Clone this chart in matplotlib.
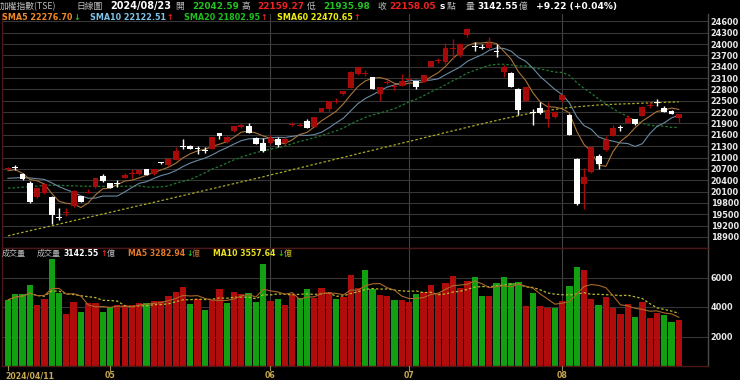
import matplotlib
matplotlib.use('Agg')
import matplotlib.pyplot as plt
import numpy as np
import pandas as pd

# ---------------- data ----------------
month_labels = ['2024/04/11', '05', '06', '07', '08']
month_idx = [0, 14, 36, 55, 76]
month_lines = [36, 55, 76]

opens = [20690, 20750, 20555, 20335, 19960, 20060, 19965, 19420, 19545, 19727,
         19970, 20060, 20210, 20505, 20318, 20330, 20470, 20580, 20555, 20690,
         20560, 20865, 20795, 20940, 21295, 21310, 21250, 21200, 21225, 21655,
         21400, 21690, 21800, 21833, 21505, 21390, 21375, 21490, 21375, 21870,
         21830, 21965, 21815, 22212, 22275, 22465, 22680, 22846, 23200, 23220,
         23127, 22690, 22985, 22880, 22890, 23050, 23010, 22995, 23390, 23560,
         23525, 23880, 23700, 24230, 23930, 23920, 23895, 23815, 23268, 23240,
         22820, 22495, 22195, 22310, 22030, 22070, 22510, 22130, 20970, 20308,
         20617, 21031, 21190, 21580, 21800, 21903, 22009, 22097, 22370, 22455,
         22300, 22238, 22042.59]
highs = [20760, 20790, 20580, 20380, 20230, 20330, 19990, 19660, 19660, 20140,
         19990, 20180, 20470, 20555, 20330, 20405, 20600, 20687, 20675, 20700,
         20700, 20880, 20975, 21270, 21500, 21320, 21310, 21290, 21540, 21660,
         21560, 21845, 21900, 21900, 21550, 21505, 21590, 21530, 21530, 21945,
         21900, 22010, 22065, 22310, 22500, 22560, 22770, 23290, 23405, 23320,
         23140, 22870, 23040, 22950, 23210, 23210, 23020, 23180, 23545, 23620,
         24035, 24140, 24030, 24420, 24040, 23990, 24180, 23990, 23443, 23250,
         22830, 22865, 22275, 22470, 22470, 22230, 22690, 22140, 20975, 20722,
         21280, 21100, 21580, 21870, 21860, 22120, 22020, 22350, 22480, 22540,
         22360, 22250, 22159.27]
lows = [20670, 20670, 20405, 19790, 19940, 20040, 19250, 19345, 19465, 19700,
        19820, 20050, 20200, 20365, 20185, 20230, 20450, 20450, 20545, 20535,
        20550, 20840, 20785, 20930, 21225, 21220, 21100, 21110, 21220, 21500,
        21390, 21680, 21780, 21639, 21348, 21155, 21370, 21280, 21300, 21820,
        21825, 21770, 21800, 22200, 22230, 22440, 22650, 22840, 23190, 23150,
        22810, 22495, 22930, 22780, 22880, 23000, 22820, 22990, 23380, 23510,
        23480, 23610, 23660, 24180, 23810, 23880, 23880, 23660, 23136, 22860,
        22130, 22490, 21870, 22150, 21805, 22040, 22480, 21600, 19735, 19630,
        20600, 20705, 21180, 21570, 21690, 21900, 21870, 22090, 22300, 22370,
        22190, 22141, 21935.98]
closes = [20735, 20725, 20432, 19833, 20200, 20300, 19480, 19400, 19565, 20115,
          19830, 20085, 20466, 20375, 20190, 20312, 20540, 20595, 20670, 20540,
          20690, 20850, 20970, 21170, 21280, 21225, 21235, 21190, 21530, 21580,
          21550, 21835, 21860, 21645, 21350, 21160, 21505, 21330, 21480, 21880,
          21845, 21775, 22060, 22300, 22494, 22475, 22765, 23250, 23400, 23235,
          22820, 22860, 23000, 22895, 23010, 23070, 22865, 23170, 23540, 23570,
          23895, 23900, 24005, 24405, 23915, 23905, 24025, 23800, 23400, 22865,
          22245, 22860, 22170, 22185, 22245, 22200, 22645, 21605, 19780, 20484,
          21277, 20837, 21454, 21775, 21790, 22036, 21877, 22344, 22390, 22445,
          22212, 22148.83, 22158.05]
volumes = [4475, 4882, 4882, 5492, 4136, 4520, 7232, 4927, 3526, 4339,
           3684, 4249, 4249, 3639, 4023, 4136, 4136, 4136, 4249, 4294,
           4407, 4407, 4746, 4995, 5379, 4204, 4520, 3797, 4475, 5198,
           4249, 4995, 4882, 4927, 4317, 6916, 4430, 4520, 4136, 4882,
           4633, 5198, 4588, 5266, 5040, 4543, 4701, 6170, 5266, 6509,
           5198, 4814, 4746, 4475, 4475, 4339, 4882, 5040, 5492, 4927,
           5650, 6102, 5266, 5763, 6012, 4746, 4769, 5605, 6057, 5650,
           5673, 4068, 4927, 4091, 3955, 3910, 4407, 5447, 6690, 6509,
           4543, 4136, 4656, 3910, 3503, 4181, 3300, 4317, 3277, 3616,
           3458, 3006, 3142.55]
# volume bar colour: R = up vs previous close, G = down
vol_dir = ("GGGGRRGGRRGRRGGRRRRGRRRRRGRGRRGRRGGGRGRRGGRRRGRRRG"
           "GRRGRRGRRRRRRRGGRGGGGRGRRGRGGRRGRRRRGRRRGGR")
# moving-average values read where the visible closes are not enough
sma5_head = [20650, 20680, 20580, 20420]
sma10_head = [20450, 20460, 20470, 20460, 20440, 20420, 20330, 20230, 20150]
sma20_head = [20190, 20200, 20215, 20230, 20245, 20260, 20270, 20265, 20255, 20250,
              20245, 20240, 20240, 20235, 20235, 20240, 20240, 20245, 20250]
sma60 = [18930, 18975, 19020, 19065, 19110, 19150, 19195, 19240, 19285, 19330,
         19375, 19420, 19460, 19505, 19550, 19595, 19640, 19685, 19730, 19770,
         19815, 19860, 19905, 19950, 19995, 20040, 20085, 20130, 20175, 20220,
         20265, 20310, 20355, 20400, 20445, 20490, 20540, 20585, 20630, 20680,
         20725, 20770, 20820, 20865, 20910, 20960, 21005, 21050, 21100, 21145,
         21190, 21240, 21285, 21330, 21380, 21425, 21470, 21520, 21565, 21610,
         21660, 21705, 21750, 21800, 21845, 21890, 21935, 21980, 22025, 22065,
         22105, 22145, 22180, 22210, 22240, 22270, 22300, 22320, 22340, 22355,
         22372, 22388, 22398, 22406, 22414, 22421, 22428, 22435, 22443, 22450,
         22457, 22464, 22471]
# values printed in the header legends
sma_names = ['SMA5', 'SMA10', 'SMA20', 'SMA60']
sma_last = [22276.70, 22122.51, 21802.95, 22470.65]
vol_ma_names = ['MA5', 'MA10']
vol_ma_last = [3282.94, 3557.64]
change = 9.22
change_pct = 0.04
price_ticks = list(range(18900, 24601, 300))
vol_ticks = [2000, 4000, 6000]

# ---------------- derived ----------------
n = len(closes)
x = np.arange(n)
o = np.array(opens, float); h = np.array(highs, float)
l = np.array(lows, float); c = np.array(closes, float)
cs = pd.Series(c)
sma5 = cs.rolling(5).mean().values
sma5[:len(sma5_head)] = sma5_head
sma10 = cs.rolling(10).mean().values
sma10[:len(sma10_head)] = sma10_head
sma20 = cs.rolling(20).mean().values
sma20[:len(sma20_head)] = sma20_head
vs = pd.Series(volumes, dtype=float)
vma5 = vs.rolling(5, min_periods=1).mean().values
vma10 = vs.rolling(10, min_periods=1).mean().values

# ---------------- figure ----------------
W, H = 740, 380
fig = plt.figure(figsize=(7.4, 3.8), dpi=100, facecolor='black')
def fx(px): return px / W
def fy(py): return 1 - py / H

ax = fig.add_axes([fx(2), fy(248), fx(708) - fx(2), fy(14) - fy(248)])
axv = fig.add_axes([fx(2), fy(366), fx(708) - fx(2), fy(248) - fy(366)])
for a in (ax, axv):
    a.set_facecolor('black')
    a.set_xlim(-0.82, 96.0)
    for s in a.spines.values():
        s.set_color('#4a1818'); s.set_linewidth(1.0)
    a.spines['right'].set_color('#4a4a4a')
    a.set_xticks([])
    for m in month_lines:
        a.axvline(m, color='#424242', lw=0.8, zorder=0)
ax.spines['top'].set_visible(False)

# price panel
ax.set_ylim(18608, 24793)
ax.set_yticks(price_ticks)
ax.yaxis.tick_right()
ax.grid(axis='y', color='#363636', lw=0.8, zorder=0)
ax.tick_params(axis='y', length=0, pad=2, labelsize=5.9, labelcolor='#e8e8e8')
for lab in ax.get_yticklabels():
    lab.set_fontweight('bold')

ax.plot(x, sma60, color='#a8a828', lw=0.9, ls=(0, (2, 1.6)), zorder=2)
ax.plot(x, sma20, color='#1f7a30', lw=0.9, ls=(0, (2, 1.6)), zorder=2)
ax.plot(x, sma10, color='#6a8aa2', lw=0.8, zorder=2)
ax.plot(x, sma5, color='#a8743a', lw=0.8, zorder=2)

up = c >= o
ccol = np.where(up, '#a80a0a', '#ffffff')
ax.vlines(x, l, h, colors=ccol, lw=1.0, zorder=3)
bh = np.abs(c - o)
mid = (c + o) / 2
bh2 = np.maximum(bh, 28)
ax.bar(x, bh2, bottom=mid - bh2 / 2, width=0.8, color=ccol, linewidth=0, zorder=4)

# volume panel
axv.set_ylim(0, 8000)
axv.set_yticks(vol_ticks)
axv.yaxis.tick_right()
axv.grid(axis='y', color='#363636', lw=0.8, zorder=0)
axv.tick_params(axis='y', length=0, pad=2, labelsize=5.9, labelcolor='#e8e8e8')
for lab in axv.get_yticklabels():
    lab.set_fontweight('bold')
vcol = ['#b00c0c' if d == 'R' else '#12a012' for d in vol_dir]
axv.bar(x, volumes, width=0.86, color=vcol, linewidth=0, zorder=2)
axv.plot(x, vma10, color='#b8b830', lw=0.9, ls=(0, (2, 1.6)), zorder=3)
axv.plot(x, vma5, color='#a86a28', lw=0.8, zorder=3)

# bottom labels + tick marks
for lab, i in zip(month_labels, month_idx):
    xd = fig.transFigure.inverted().transform(axv.transData.transform((i, 0)))[0]
    fig.lines.append(plt.Line2D([xd, xd], [fy(366), fy(370)], color='#9a8a5a', lw=0.8,
                                transform=fig.transFigure))
    if i == 0:
        fig.text(fx(5), fy(376), lab, color='#c8a850', fontsize=5.6, fontweight='bold',
                 ha='left', va='center')
    else:
        fig.text(xd, fy(376), lab, color='#c8a850', fontsize=5.6, fontweight='bold',
                 ha='center', va='center')

CJK = ['Noto Sans CJK TC', 'DejaVu Sans']
LAT = ['DejaVu Sans', 'Noto Sans CJK TC']
def T(px, py, s, color, size=6.4, bold=True, cjk=False):
    fig.text(fx(px), fy(py), s, color=color, fontsize=size,
             fontweight='bold' if bold else 'normal',
             family=CJK if cjk else LAT, ha='left', va='center')

GRY = '#bdbdbd'; GRN = '#22c322'; RED = '#ee2020'
# header row 1
T(0, 6.5, '加權指數(TSE)', GRY, 6.3, False, True)
T(76, 6.5, '日線圖', GRY, 6.3, False, True)
T(110, 6.5, '2024/08/23', '#ffffff', 6.9)
T(175, 6.5, '開', GRY, 6.3, False, True)
T(192, 6.5, f'{opens[-1]:.2f}', GRN)
T(242, 6.5, '高', GRY, 6.3, False, True)
T(257, 6.5, f'{highs[-1]:.2f}', RED)
T(307, 6.5, '低', GRY, 6.3, False, True)
T(323, 6.5, f'{lows[-1]:.2f}', GRN)
T(377, 6.5, '收', GRY, 6.3, False, True)
T(389, 6.5, f'{closes[-1]:.2f}', RED)
T(440, 6.5, 's', '#ffffff', 6.4)
T(447, 6.5, '點', GRY, 6.3, False, True)
T(466, 6.5, '量', GRY, 6.3, False, True)
T(477, 6.5, f'{volumes[-1]:.2f}', '#ffffff')
T(519, 6.5, '億', GRY, 6.3, False, True)
T(536, 6.5, f'+{change:.2f} (+{change_pct:.2f}%)', '#ffffff', 6.6)

# header row 2
sma_cols = ['#f08a24', '#7ec3ea', '#1fc01f', '#eeee10']
sma_x = [2, 90, 184, 277]
arrow_x = [73, 166, 260, 353]
arrows = ['↓', '↑', '↑', '↑']
for nm, v, col, px, ax_, ar in zip(sma_names, sma_last, sma_cols, sma_x, arrow_x, arrows):
    T(px, 17.5, f'{nm} {v:.2f}', col, 5.8)
    T(ax_, 17.5, ar, GRN if ar == '↓' else RED, 5.8)

# volume header
T(2, 253.5, '成交量', GRY, 5.8, False, True)
T(37, 253.5, '成交量', GRY, 5.8, False, True)
T(64, 253.5, f'{volumes[-1]:.2f}', '#ffffff', 5.6)
T(100, 253.5, '↑', RED, 5.6)
T(107, 253.5, '億', GRY, 5.8, False, True)
T(128, 253.5, f'{vol_ma_names[0]} {vol_ma_last[0]:.2f}', '#e07a2a', 5.6)
T(186, 253.5, '↓', GRN, 5.6)
T(192, 253.5, '億', '#c07030', 5.8, False, True)
T(213, 253.5, f'{vol_ma_names[1]} {vol_ma_last[1]:.2f}', '#e8e020', 5.6)
T(277, 253.5, '↓', GRN, 5.6)
T(284, 253.5, '億', '#c8c020', 5.8, False, True)

fig.savefig('out.png', dpi=100, facecolor='black')
